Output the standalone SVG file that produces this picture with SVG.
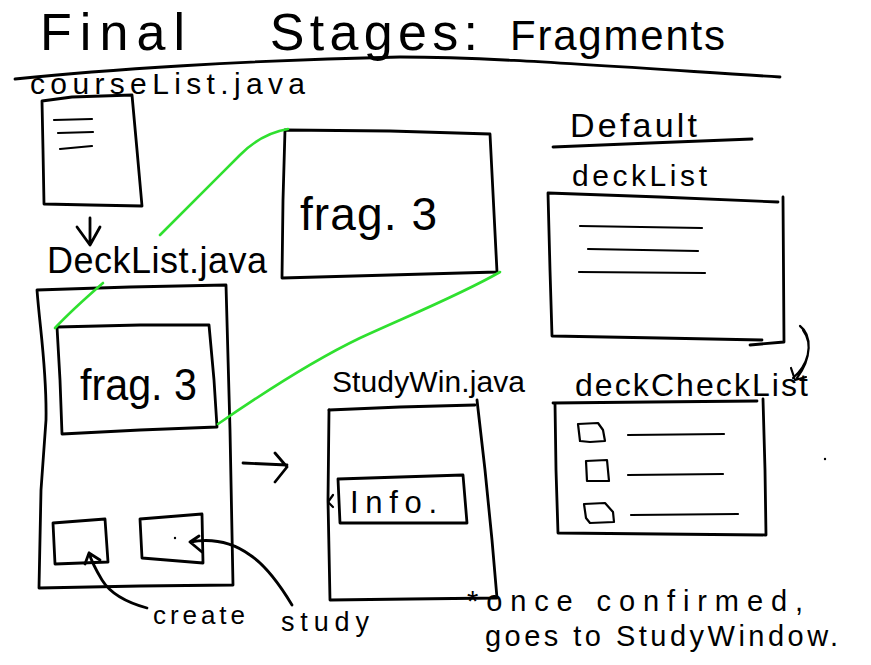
<svg xmlns="http://www.w3.org/2000/svg" width="871" height="665" viewBox="0 0 871 665">
  <style>
    .ink { fill: none; stroke: #000; stroke-width: 2.8; stroke-linecap: round; stroke-linejoin: round; }
    .thin { fill: none; stroke: #000; stroke-width: 2.2; stroke-linecap: round; stroke-linejoin: round; }
    .link { fill: none; stroke: #2fe02f; stroke-width: 2.6; stroke-linecap: round; stroke-linejoin: round; }
    text { font-family: "Liberation Sans", "DejaVu Sans", sans-serif; fill: #000; }
  </style>
  <rect width="871" height="665" fill="#fff"/>

  <!-- Heading and rule -->
  <g id="title">
    <text y="50" font-size="52"><tspan x="40" textLength="145" lengthAdjust="spacing">Final</tspan><tspan x="250" textLength="228" lengthAdjust="spacing"> Stages:</tspan><tspan x="510" font-size="42" textLength="215" lengthAdjust="spacing">Fragments</tspan></text>
    <path class="ink" d="M15,79 C100,70 250,60 400,57 C480,57 560,63 780,77"/>
  </g>

  <!-- courseList.java -->
  <g id="courseList">
    <text x="30" y="94" font-size="30" textLength="275" lengthAdjust="spacing">courseList.java</text>
    <path class="ink" d="M42,101 L72,97 L132,95 L137,150 L142,206 L90,205 L44,204 L43,150 Z"/>
    <path class="thin" d="M54,120 L92,119 M58,133 L93,132 M60,149 L92,146"/>
  </g>

  <!-- DeckList.java screen -->
  <g id="deckListScreen">
    <text x="47" y="273" font-size="36" textLength="220" lengthAdjust="spacing">DeckList.java</text>
    <path class="ink" d="M37,290 L130,287 L226,285 L230,430 L233,585 L140,586 L39,588 L41,490 L46,420 C47,370 40,330 37,290 Z"/>
    <g id="frag3Inner">
      <path class="ink" d="M57,327 L140,325 L209,325 L214,380 L217,427 L140,430 L62,434 L60,380 Z"/>
      <text x="80" y="400" font-size="44" textLength="117" lengthAdjust="spacingAndGlyphs">frag. 3</text>
    </g>
    <g id="createButton">
      <path class="ink" d="M53,523 L105,519 L108,562 L55,564 Z"/>
    </g>
    <g id="studyButton">
      <path class="ink" d="M140,519 L202,514 L203,563 L142,558 Z"/>
      <circle cx="175" cy="538" r="1.2" fill="#000"/>
    </g>
    <text x="153" y="624" font-size="26" textLength="92" lengthAdjust="spacing">create</text>
    <text x="281" y="631" font-size="27" textLength="88" lengthAdjust="spacing">study</text>
  </g>

  <!-- Fragment 3 enlarged -->
  <g id="frag3">
    <path class="ink" d="M285,130 L390,131 L490,134 L497,272 L390,275 L282,278 L283,200 Z"/>
    <text x="300" y="230" font-size="46" textLength="137" lengthAdjust="spacing">frag. 3</text>
  </g>

  <!-- StudyWin.java -->
  <g id="studyWin">
    <text x="332" y="392" font-size="30" textLength="193" lengthAdjust="spacing">StudyWin.java</text>
    <path class="ink" d="M329,410 L400,407 L475,405"/>
    <path class="ink" d="M477,400 L485,470 L492,540 L497,598 L410,599 L330,600 L328,500 L329,410"/>
    <g id="info">
      <path class="ink" d="M338,479 L400,477 L463,475 L467,523 L400,523 L340,523 Z"/>
      <path class="thin" d="M333,495 L328,502 L333,507"/>
      <text x="350" y="513" font-size="31" textLength="87" lengthAdjust="spacing">Info.</text>
    </g>
  </g>

  <!-- Default section -->
  <g id="defaultHeading">
    <text x="570" y="137" font-size="34" textLength="127" lengthAdjust="spacing">Default</text>
    <path class="ink" d="M553,147 L650,143 L752,139"/>
  </g>

  <g id="deckList">
    <text x="572" y="186" font-size="30" textLength="135" lengthAdjust="spacing">deckList</text>
    <path class="ink" d="M548,193 L660,197 L778,202 M783,197 L784,342 L750,345 M552,336 L660,338 L762,340 M548,193 L550,270 L552,336"/>
    <path class="thin" d="M580,226 L702,228 M588,249 L698,251 M579,272 L705,273"/>
  </g>

  <g id="deckCheckList">
    <text x="575" y="396" font-size="32" textLength="233" lengthAdjust="spacing">deckCheckList</text>
    <path class="ink" d="M553,403 L650,402 L757,401 M763,399 L765,470 L766,535 L660,534 L558,533 L556,470 L555,403"/>
    <path class="thin" d="M578,424 L598,423 L603,430 L605,441 L590,442 L580,441 Z"/>
    <path class="thin" d="M586,461 L607,460 L609,481 L587,481 Z"/>
    <path class="thin" d="M584,504 L605,503 L613,512 L614,522 L590,523 L586,518 Z"/>
    <path class="thin" d="M628,435 L724,434 M628,475 L723,474 M631,515 L738,514"/>
  </g>
  <circle cx="825" cy="459" r="1.2" fill="#000"/>

  <!-- Note -->
  <g id="note">
    <text x="467" y="611" font-size="29" textLength="336" lengthAdjust="spacing">*once confirmed,</text>
    <text x="485" y="646" font-size="29" textLength="353" lengthAdjust="spacing">goes to StudyWindow.</text>
  </g>

  <!-- Connectors -->
  <g id="connectors">
    <path class="link" d="M288,129 C270,132 255,140 240,155 C215,180 195,200 160,235"/>
    <path class="link" d="M103,283 C88,296 70,312 55,328"/>
    <path class="link" d="M500,272 C460,295 410,315 360,338 C310,362 260,395 218,424"/>
    <!-- courseList to DeckList -->
    <path class="ink" d="M90,218 L90,245 M77,227 L90,245 L100,227"/>
    <!-- DeckList to StudyWin -->
    <path class="ink" d="M243,463 L287,465 M275,453 L287,467 L275,482"/>
    <!-- create label arrow -->
    <path class="ink" d="M147,608 C125,602 110,593 102,580 C96,570 92,563 89,553 M89,553 L100,560 M89,553 L85,564"/>
    <!-- study label arrow -->
    <path class="ink" d="M292,605 C280,585 265,565 250,555 C232,542 212,538 190,542 M190,542 L199,536 M190,542 L202,552"/>
    <!-- deckList to deckCheckList -->
    <path class="thin" d="M800,326 C812,335 812,358 797,378 M803,330 C814,345 808,365 793,378 M791,368 L795,380 L806,377"/>
  </g>
</svg>
